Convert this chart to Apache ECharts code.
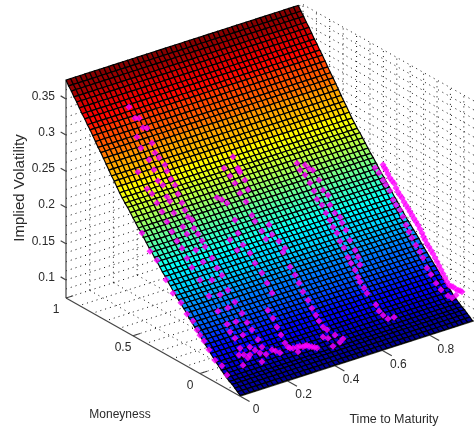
<!DOCTYPE html>
<html><head><meta charset="utf-8">
<style>html,body{margin:0;padding:0;background:#fff}#c{width:474px;height:435px}</style>
<script src="https://cdn.jsdelivr.net/npm/echarts@6/dist/echarts.min.js"></script>
</head><body><div id="c"></div>
<script>
const timeLevels=[0,.02,.04,.06,.08,.1,.12,.14,.16,.18,.2,.22,.24,.26,.28,.3,.32,.34,.36,.38,.4,.42,.44,.46,.48,.5,.52,.54,.56,.58,.6,.62,.64,.66,.68,.7,.72,.74,.76,.78,.8,.82,.84,.86,.88,.9,.92,.94,.96,.98];
const moneynessLevels=[-.3,-.28,-.26,-.24,-.22,-.2,-.18,-.16,-.14,-.12,-.1,-.08,-.06,-.04,-.02,0,.02,.04,.06,.08,.1,.12,.14,.16,.18,.2,.22,.24,.26,.28,.3,.32,.34,.36,.38,.4,.42,.44,.46,.48,.5,.52,.54,.56,.58,.6,.62,.64,.66,.68,.7,.72,.74,.76,.78,.8,.82,.84,.86,.88,.9,.92,.94,.96,.98,1];
const surfaceVol=[.076,.079,.082,.085,.087,.09,.093,.096,.1,.103,.107,.111,.115,.119,.123,.127,.131,.135,.139,.143,.148,.152,.156,.16,.164,.168,.173,.177,.182,.186,.191,.196,.2,.205,.209,.214,.219,.224,.228,.233,.238,.243,.248,.252,.257,.262,.268,.274,.279,.285,.291,.297,.303,.308,.314,.32,.326,.331,.337,.342,.348,.354,.359,.365,.37,.376];

const volTicks=[.1,.15,.2,.25,.3,.35];
const moneynessTicks=[0,.5,1];
const timeTicks=[0,.2,.4,.6,.8];
const volTickLabels=['0.1','0.15','0.2','0.25','0.3','0.35'];
const moneynessTickLabels=['0','0.5','1'];
const timeTickLabels=['0','0.2','0.4','0.6','0.8'];

const quoteT01M=[.451,.391,.339,.272,.219,.16,.115,.07,.04,.018,-.012,-.049,-.094,-.146,-.184];
const quoteT01V=[.221,.202,.195,.175,.162,.155,.144,.139,.13,.125,.12,.112,.102,.1,.091];
const quoteT10M=[.64,.572,.535,.498,.46,.423,.386,.349,.311,.274,.237,.177,.11,.043,-.025,-.047,-.084,-.122,-.151,-.114,-.144,-.181];
const quoteT10V=[.276,.26,.257,.248,.24,.23,.22,.211,.205,.195,.186,.175,.16,.146,.135,.127,.122,.112,.106,.102,.091,.105];
const quoteT15M=[.736,.706,.646,.609,.579,.542,.512,.49,.46,.393,.363,.296,.243,.176,.116,.057,-.003,-.055,-.107,-.197];
const quoteT15V=[.309,.297,.287,.277,.265,.263,.25,.246,.233,.221,.214,.199,.188,.17,.156,.144,.131,.118,.107,.096];
const quoteT20M=[.884,.839,.809,.779,.749,.712,.69,.66,.615,.6,.57,.54,.518,.488,.466,.443,.413,.399,.369,.339,.316,.264,.227,.19,.145,.093,.04,.003,-.034,-.079,-.109,-.057,-.019,-.094,-.184,-.243,-.14,-.21];
const quoteT20V=[.33,.319,.322,.312,.315,.298,.287,.283,.278,.271,.263,.258,.248,.239,.231,.224,.223,.213,.208,.202,.196,.186,.176,.17,.154,.143,.133,.124,.118,.109,.102,.092,.082,.092,.106,.108,.095,.107];
const quoteT37M=[.528,.49,.453,.393,.371,.431,.378,.334,.281,.244,.192,.154,.117,.148,.11,.08,.05,.021,-.002,-.017,-.069,-.114,-.144,-.181,-.219,-.077,-.04,-.09,-.13,-.16,-.2];
const quoteT37V=[.224,.225,.224,.207,.191,.176,.167,.179,.173,.163,.155,.145,.135,.108,.101,.092,.084,.076,.073,.073,.08,.085,.09,.092,.094,.074,.075,.083,.088,.09,.093];
const quoteT47M=[.585,.54,.652,.607,.548,.533,.496,.57,.473,.533,.488,.443,.421,.316,.369,.294,.339,.242,.197,.212,.159,.122,.092,.063,.025,-.004,-.034,-.057,-.087,-.116,-.176,-.236,-.213,-.161,-.124,-.087];
const quoteT47V=[.264,.25,.241,.235,.252,.248,.241,.229,.23,.219,.212,.198,.192,.198,.184,.187,.176,.183,.178,.171,.156,.149,.141,.132,.124,.116,.11,.104,.099,.098,.097,.098,.091,.08,.087,.085];
const quoteT70M=[.514,.454,.425,.492,.454,.395,.417,.35,.387,.32,.365,.283,.328,.268,.298,.231,.268,.193,.245,.178,.216,.149,.193,.119,.163,.081,.134,.059,.111,.044,.081,.059,.044,.014,-.008,-.075,-.098,-.128,-.165,-.21];
const quoteT70V=[.238,.242,.24,.231,.228,.241,.221,.232,.213,.221,.204,.218,.2,.206,.192,.199,.185,.197,.178,.191,.173,.184,.164,.173,.158,.163,.148,.156,.142,.147,.136,.128,.123,.118,.113,.104,.098,.095,.094,.101];
const quoteT94M=[.357,.327,.297,.275,.245,.222,.2,.17,.148,.125,.103,.081,.051,.021,-.001,-.031,-.061,-.099,-.136,-.188,-.218,-.248];
const quoteT94V=[.223,.219,.212,.208,.203,.193,.188,.184,.177,.168,.161,.155,.148,.142,.136,.125,.119,.111,.106,.103,.103,.11];
const quoteT99M=[.385,.374,.363,.348,.333,.318,.303,.288,.273,.258,.243,.228,.213,.198,.184,.169,.154,.139,.124,.109,.094,.083,.072,.057,.042,.027,.012,-.003,-.018,-.033,-.048,-.063,-.078,-.092,-.107,-.122,-.137,-.156,-.175,-.19,-.204];
const quoteT99V=[.219,.216,.214,.21,.206,.204,.202,.197,.193,.19,.188,.184,.181,.178,.175,.172,.169,.166,.163,.159,.155,.151,.148,.144,.141,.138,.135,.131,.127,.123,.119,.115,.111,.107,.104,.104,.105,.104,.104,.105,.105];
const quoteChains=[[.01,quoteT01M,quoteT01V],[.1,quoteT10M,quoteT10V],[.15,quoteT15M,quoteT15V],[.2,quoteT20M,quoteT20V],[.37,quoteT37M,quoteT37V],[.47,quoteT47M,quoteT47V],[.7,quoteT70M,quoteT70V],[.94,quoteT94M,quoteT94V],[.99,quoteT99M,quoteT99V]];

// Oblique projection of the 3-D box onto the hidden 2-D axes
const T_MIN=0,T_MAX=1,M_MIN=-.3,M_MAX=1,Z_MIN=.075,Z_MAX=.375;
const COLOR_MIN=.07,COLOR_MAX=.376;
function project(T,m,z){return [200+237*T-134*m,373.5-76.2*T-75.5*m-724*(z-Z_MIN)];}

function jet(t){
  t=Math.max(0,Math.min(.9999,t));t=(Math.floor(t*64)+.5)/64;
  const c=v=>Math.round(255*Math.max(0,Math.min(1,1.5-Math.abs(4*t-v))));
  return 'rgb('+c(3)+','+c(2)+','+c(1)+')';
}

const gridT=[.1,.2,.3,.4,.5,.6,.7,.8,.9];
const gridM=[-.2,-.1,0,.1,.2,.3,.4,.5,.6,.7,.8,.9];
const gridZ=[.0875,.1,.1125,.125,.1375,.15,.1625,.175,.1875,.2,.2125,.225,.2375,.25,.2625,.275,.2875,.3,.3125,.325,.3375,.35,.3625];
const segs=[];
function seg(a,b,c,d,e,f){segs.push([a,b,c,d,e,f]);}
gridT.forEach(T=>{seg(T,M_MAX,Z_MIN,T,M_MAX,Z_MAX);seg(T,M_MAX,Z_MIN,T,M_MIN,Z_MIN);});
gridM.forEach(m=>{seg(T_MAX,m,Z_MIN,T_MAX,m,Z_MAX);seg(T_MAX,m,Z_MIN,T_MIN,m,Z_MIN);});
gridZ.forEach(z=>{seg(T_MIN,M_MAX,z,T_MAX,M_MAX,z);seg(T_MAX,M_MAX,z,T_MAX,M_MIN,z);});
seg(T_MIN,M_MAX,Z_MAX,T_MAX,M_MAX,Z_MAX);seg(T_MAX,M_MAX,Z_MAX,T_MAX,M_MIN,Z_MAX);
seg(T_MAX,M_MAX,Z_MIN,T_MAX,M_MAX,Z_MAX);seg(T_MAX,M_MIN,Z_MIN,T_MAX,M_MIN,Z_MAX);
seg(T_MIN,M_MAX,Z_MIN,T_MAX,M_MAX,Z_MIN);seg(T_MAX,M_MAX,Z_MIN,T_MAX,M_MIN,Z_MIN);

const cells=[];
for(let j=moneynessLevels.length-2;j>=0;j--)for(let i=0;i<timeLevels.length-1;i++)cells.push([i,j]);

const axisSegs=[[T_MIN,M_MAX,Z_MIN,T_MIN,M_MAX,Z_MAX],[T_MIN,M_MAX,Z_MIN,T_MIN,M_MIN,Z_MIN],[T_MIN,M_MIN,Z_MIN,T_MAX,M_MIN,Z_MIN]];
volTicks.forEach(z=>axisSegs.push([T_MIN,M_MAX,z,T_MIN,M_MAX+.04,z]));
moneynessTicks.forEach(m=>axisSegs.push([T_MIN,m,Z_MIN,T_MIN+.03,m,Z_MIN]));
timeTicks.forEach(T=>axisSegs.push([T,M_MIN,Z_MIN,T,M_MIN-.07,Z_MIN]));

const labels=[];
volTicks.forEach((z,i)=>labels.push([T_MIN,M_MAX,z,-11,-2.5,volTickLabels[i],'right',0,12]));
moneynessTicks.forEach((m,i)=>labels.push([T_MIN,m,Z_MIN,-10,12,moneynessTickLabels[i],'center',0,12]));
timeTicks.forEach((T,i)=>labels.push([T,M_MIN,Z_MIN,16,14,timeTickLabels[i],'center',0,12]));

const quotes=[];
quoteChains.forEach(([T,ms,vs])=>ms.forEach((m,i)=>quotes.push(project(T,m,vs[i]))));

function lineItem(style){return (p,api)=>{
  const a=api.coord(project(api.value(0),api.value(1),api.value(2)));
  const b=api.coord(project(api.value(3),api.value(4),api.value(5)));
  return {type:'line',shape:{x1:a[0],y1:a[1],x2:b[0],y2:b[1]},style:style,silent:true};
};}

const chart=echarts.init(document.getElementById('c'),null,{renderer:'canvas'});
chart.setOption({
  animation:false,backgroundColor:'#fff',tooltip:{show:false},
  grid:{left:0,right:0,top:0,bottom:0},
  xAxis:{type:'value',min:0,max:474,show:false},
  yAxis:{type:'value',min:0,max:435,inverse:true,show:false},
  series:[
    {type:'custom',coordinateSystem:'cartesian2d',silent:true,clip:true,progressive:0,z:1,data:segs,encode:{x:0,y:1},
     renderItem:lineItem({stroke:'#111',lineWidth:1,lineDash:[1,4]})},
    {type:'custom',coordinateSystem:'cartesian2d',silent:true,clip:true,progressive:0,z:2,data:axisSegs,encode:{x:0,y:1},
     renderItem:lineItem({stroke:'#444',lineWidth:1.2})},
    {type:'custom',coordinateSystem:'cartesian2d',silent:true,clip:true,progressive:0,z:3,data:cells,encode:{x:0,y:1},
     renderItem:(p,api)=>{
       const i=api.value(0),j=api.value(1);
       const c=[[i,j],[i+1,j],[i+1,j+1],[i,j+1]];
       const pts=c.map(q=>api.coord(project(timeLevels[q[0]],moneynessLevels[q[1]],surfaceVol[q[1]])));
       const v=(surfaceVol[j]+surfaceVol[j+1])/2;
       return {type:'polygon',shape:{points:pts},silent:true,
         style:{fill:jet((v-COLOR_MIN)/(COLOR_MAX-COLOR_MIN)),stroke:'#000',lineWidth:1.2}};
     }},
    {type:'scatter',coordinateSystem:'cartesian2d',silent:true,clip:true,z:4,data:quotes,symbol:'diamond',symbolSize:7,
     itemStyle:{color:'#ff00ff'},large:false},
    {type:'custom',coordinateSystem:'cartesian2d',silent:true,clip:false,z:5,data:labels,encode:{x:0,y:1},
     renderItem:(p,api)=>{
       const idx=p.dataIndex,l=labels[idx];
       const a=api.coord(project(l[0],l[1],l[2]));
       return {type:'text',x:a[0]+l[3],y:a[1]+l[4],silent:true,
         style:{text:l[5],fill:'#2a2a2a',font:l[8]+'px "Liberation Sans"',textAlign:l[6],textVerticalAlign:'middle'}};
     }}
  ],
  graphic:[
    {type:'text',x:120,y:415,silent:true,z:6,style:{text:'Moneyness',fill:'#2a2a2a',font:'12px "Liberation Sans"',textAlign:'center',textVerticalAlign:'middle'}},
    {type:'text',x:394,y:420,silent:true,z:6,style:{text:'Time to Maturity',fill:'#2a2a2a',font:'12.5px "Liberation Sans"',textAlign:'center',textVerticalAlign:'middle'}},
    {type:'text',x:20,y:188,rotation:Math.PI/2,silent:true,z:6,style:{text:'Implied Volatility',fill:'#2a2a2a',font:'15px "Liberation Sans"',textAlign:'center',textVerticalAlign:'middle'}}
  ]
});
</script></body></html>
